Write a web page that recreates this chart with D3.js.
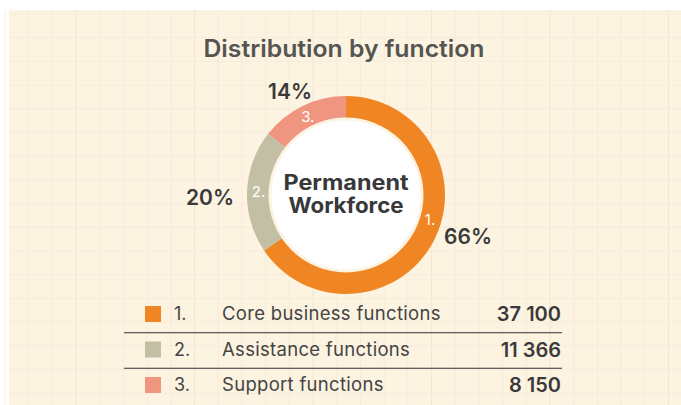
<!DOCTYPE html>
<html>
<head>
<meta charset="utf-8">
<script src="https://cdn.jsdelivr.net/npm/d3@7"></script>
<style>
  body { margin: 0; background: #fff; }
  svg { display: block; font-family: "Inter", "DejaVu Sans", sans-serif; }
</style>
</head>
<body>
<script>
// chart data
var categories = ["Core business functions", "Assistance functions", "Support functions"];
var numbers    = ["1.", "2.", "3."];
var values     = [37100, 11366, 8150];
var percents   = ["66%", "20%", "14%"];
var colors     = ["#f08524", "#c2bfa5", "#ef9580"];

var width = 681, height = 405;
var cx = 346, cy = 195;
var outerR = 99, innerR = 76;

var svg = d3.select("body").append("svg")
  .attr("width", width)
  .attr("height", height);

// cream panel
svg.append("rect")
  .attr("x", 9).attr("y", 10)
  .attr("width", width - 9).attr("height", height - 10)
  .attr("fill", "#fdf3e1");

// faint grid
var grid = svg.append("g");
var gx = d3.range(5, width, 23.7);
var gy = d3.range(14, height, 23.7);
grid.selectAll("line.v").data(gx).enter().append("line")
  .attr("x1", function (d){ return d; }).attr("x2", function (d){ return d; })
  .attr("y1", 10).attr("y2", height)
  .attr("stroke", function (d, i){ return i % 5 === 3 ? "#f1e6d4" : "#f7ecdb"; })
  .attr("stroke-width", 1);
grid.selectAll("line.h").data(gy).enter().append("line")
  .attr("y1", function (d){ return d; }).attr("y2", function (d){ return d; })
  .attr("x1", 9).attr("x2", width)
  .attr("stroke", "#f7ecdb")
  .attr("stroke-width", 1);

// title
svg.append("text")
  .attr("x", cx - 2).attr("y", 57)
  .attr("text-anchor", "middle")
  .attr("font-size", 24).attr("font-weight", 600)
  .attr("textLength", 281).attr("lengthAdjust", "spacingAndGlyphs")
  .attr("fill", "#555552")
  .text("Distribution by function");

// donut
var pie = d3.pie().sort(null).value(function (d){ return d; });
var arcs = pie(values);
var arc = d3.arc().innerRadius(innerR).outerRadius(outerR);
var midR = (innerR + outerR) / 2;
var labelFrac = [0.45, 0.5, 0.5];

var g = svg.append("g").attr("transform", "translate(" + cx + "," + cy + ")");

g.selectAll("path").data(arcs).enter().append("path")
  .attr("d", arc)
  .attr("fill", function (d, i){ return colors[i]; });

g.append("circle")
  .attr("r", innerR)
  .attr("fill", "#ffffff")
  .attr("stroke", "#fdf3e1")
  .attr("stroke-width", 3);

// numbers inside ring
g.selectAll("text.num").data(arcs).enter().append("text")
  .attr("class", "num")
  .attr("transform", function (d, i){
    var a = d.startAngle + (d.endAngle - d.startAngle) * labelFrac[i];
    return "translate(" + (Math.sin(a) * midR) + "," + (-Math.cos(a) * midR) + ")";
  })
  .attr("text-anchor", "middle")
  .attr("dy", "0.35em")
  .attr("font-size", 15)
  .attr("fill", "#ffffff")
  .text(function (d, i){ return numbers[i]; });

// percent labels
var pctOffset = [[122, 42], [-136, 3], [-56, -103]];
g.selectAll("text.pct").data(arcs).enter().append("text")
  .attr("class", "pct")
  .attr("x", function (d, i){ return pctOffset[i][0]; })
  .attr("y", function (d, i){ return pctOffset[i][1]; })
  .attr("text-anchor", "middle")
  .attr("dy", "0.35em")
  .attr("font-size", 21).attr("font-weight", 600)
  .attr("fill", "#3a3a3a")
  .text(function (d, i){ return percents[i]; });

// center text
var center = g.append("text")
  .attr("text-anchor", "middle")
  .attr("font-size", 21).attr("font-weight", 700)
  .attr("fill", "#38383a");
center.append("tspan").attr("x", 0).attr("y", -5)
  .attr("textLength", 125).attr("lengthAdjust", "spacingAndGlyphs").text("Permanent");
center.append("tspan").attr("x", 0).attr("y", 18)
  .attr("textLength", 115).attr("lengthAdjust", "spacingAndGlyphs").text("Workforce");

// legend table
var rowY = d3.scalePoint().domain(d3.range(categories.length)).range([314, 385]);
var leg = svg.append("g");
var rows = leg.selectAll("g").data(categories).enter().append("g")
  .attr("transform", function (d, i){ return "translate(0," + rowY(i) + ")"; });

rows.append("rect")
  .attr("x", 145).attr("y", -8)
  .attr("width", 16).attr("height", 16)
  .attr("fill", function (d, i){ return colors[i]; });
rows.append("text")
  .attr("x", 174).attr("dy", "0.35em")
  .attr("font-size", 18).attr("fill", "#444444")
  .text(function (d, i){ return numbers[i]; });
rows.append("text")
  .attr("x", 222).attr("dy", "0.35em")
  .attr("font-size", 18.5).attr("fill", "#444444")
  .attr("letter-spacing", 0.3)
  .text(function (d){ return d; });

var fmt = function (v){ return d3.format(",")(v).replace(/,/g, " "); };
rows.append("text")
  .attr("x", 561).attr("dy", "0.35em")
  .attr("text-anchor", "end")
  .attr("font-size", 20).attr("font-weight", 600)
  .attr("fill", "#3a3a3a")
  .text(function (d, i){ return fmt(values[i]); });

// separators
leg.selectAll("line").data(d3.range(categories.length - 1)).enter().append("line")
  .attr("x1", 124).attr("x2", 562)
  .attr("y1", function (i){ return (rowY(i) + rowY(i + 1)) / 2 + 1; })
  .attr("y2", function (i){ return (rowY(i) + rowY(i + 1)) / 2 + 1; })
  .attr("stroke", "#333333").attr("stroke-width", 1.2);
</script>
</body>
</html>
